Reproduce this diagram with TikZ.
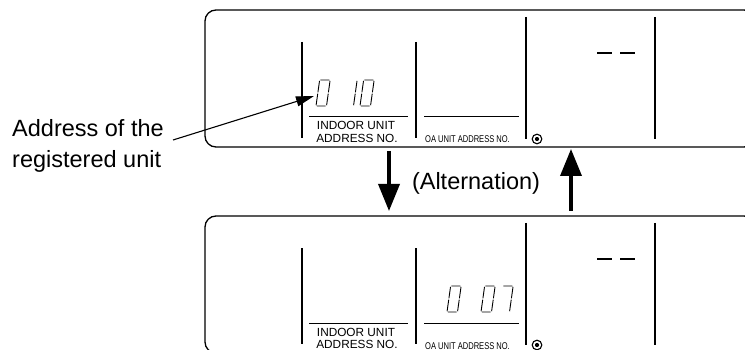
\documentclass[tikz,border=0pt]{standalone}
\usepackage{fontspec}
\usepackage{graphicx}
\newfontfamily\arial{Liberation Sans}
\usetikzlibrary{arrows.meta}
% seven-segment style digits, #1 = left x, #2 = bottom y
\newcommand\lcdzero[2]{\begin{scope}[shift={(#1,#2)},y=1pt,xslant=0.14]
 \draw[lcd] (0.8,26)--(9.7,26) (10.5,25.2)--(10.5,13.7) (10.5,12.3)--(10.5,0.8)
   (9.7,0)--(0.8,0) (0,0.8)--(0,12.3) (0,13.7)--(0,25.2);
 \end{scope}}
\newcommand\lcdone[2]{\begin{scope}[shift={(#1,#2)},y=1pt,xslant=0.14]
 \draw[lcd] (10.5,25.2)--(10.5,13.7) (10.5,12.3)--(10.5,0.8);
 \end{scope}}
\newcommand\lcdseven[2]{\begin{scope}[shift={(#1,#2)},y=1pt,xslant=0.14]
 \draw[lcd] (0.8,26)--(9.7,26) (10.5,25.2)--(10.5,13.7) (10.5,12.3)--(10.5,0.8);
 \end{scope}}
\begin{document}
\begin{tikzpicture}[x=1pt,y=-1pt,
  panel/.style={draw,line width=1.3pt,rounded corners=11pt},
  sep/.style={line width=1.6pt},
  uline/.style={line width=1pt},
  lcd/.style={line width=0.9pt},
  dashseg/.style={line width=1.3pt},
  small/.style={font=\arial\fontsize{11.8}{12}\selectfont,inner sep=0pt,anchor=base},
  tiny/.style={font=\arial\fontsize{9.8}{10}\selectfont,inner sep=0pt,anchor=base},
  big/.style={font=\arial\fontsize{23.5}{28}\selectfont,inner sep=0pt,anchor=base west},
  bigarrow/.style={line width=3.6pt,-{Triangle[length=27pt,width=21pt]}},
  ptr/.style={line width=1.1pt,-{Triangle[length=18pt,width=10pt]}},
  ring/.style={line width=1.1pt}]
\useasboundingbox (0,0) rectangle (745,350);
\clip (0,0) rectangle (745,350);

% ---------- upper panel ----------
\draw[panel] (205,10) rectangle (755,147);
\draw[sep] (302,42) -- (302,138);
\draw[sep] (416,42) -- (416,138);
\draw[sep] (526,17) -- (526,139);
\draw[sep] (655,17) -- (655,139);
\draw[uline] (309,117) -- (408,117);
\draw[uline] (424,117) -- (519,117);
\draw[dashseg] (597,53) -- (612,53) (620,53) -- (635,53);
\draw[ring] (537,139) circle (4.8);
\fill (537,139) circle (2.1);
\lcdzero{316}{106}
\lcdone{343}{106}
\lcdzero{360}{106}
\node[small] (inA1) at (356,130) {INDOOR UNIT};
\node[small] (inA2) at (357,142.7) {ADDRESS NO.};
\node[tiny] (oaA) at (467.5,143) {\scalebox{0.77}[1]{OA UNIT ADDRESS NO.}};

% ---------- lower panel ----------
\begin{scope}[shift={(0,206)}]
\draw[panel] (205,10) rectangle (755,147);
\draw[sep] (302,42) -- (302,138);
\draw[sep] (416,42) -- (416,138);
\draw[sep] (526,17) -- (526,139);
\draw[sep] (655,17) -- (655,139);
\draw[uline] (309,117) -- (408,117);
\draw[uline] (424,117) -- (519,117);
\draw[dashseg] (597,53) -- (612,53) (620,53) -- (635,53);
\draw[ring] (537,139) circle (4.8);
\fill (537,139) circle (2.1);
\lcdzero{447}{106}
\lcdzero{481}{106}
\lcdseven{499}{106}
\node[small] (inB1) at (356,130) {INDOOR UNIT};
\node[small] (inB2) at (357,142.7) {ADDRESS NO.};
\node[tiny] (oaB) at (467.5,143) {\scalebox{0.77}[1]{OA UNIT ADDRESS NO.}};
\end{scope}

% ---------- labels and arrows ----------
\node[big] (addr1) at (12,137) {Address of the};
\node[big] (addr2) at (12,168) {registered unit};
\coordinate (ptrS) at (173,140);
\coordinate (ptrT) at (314,96);
\draw[ptr] (ptrS) -- (ptrT);

\node[font=\arial\fontsize{23.5}{28}\selectfont,inner sep=0pt,anchor=base] (alt) at (476,190) {(Alternation)};
\coordinate (dnA) at (389,151);
\coordinate (dnB) at (389,211);
\draw[bigarrow] (dnA) -- (dnB);
\coordinate (upA) at (571,211);
\coordinate (upB) at (571,149);
\draw[bigarrow] (upA) -- (upB);
\end{tikzpicture}
\end{document}
